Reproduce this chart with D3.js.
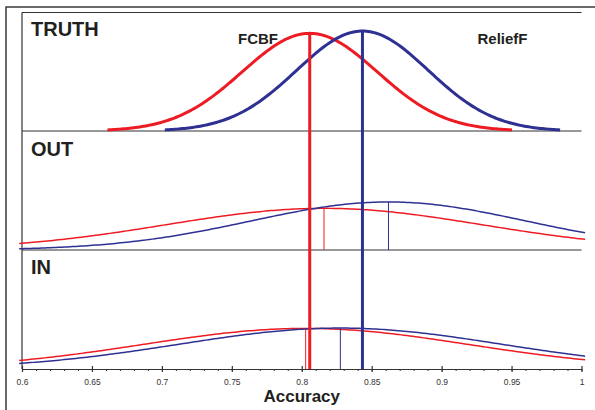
<!DOCTYPE html>
<html>
<head>
<meta charset="utf-8">
<script src="https://cdn.jsdelivr.net/npm/d3@7"></script>
<style>
  html, body { margin: 0; padding: 0; background: #fff; overflow: hidden; }
  svg { display: block; font-family: "Liberation Sans", Arial, sans-serif; }
</style>
</head>
<body>
<svg id="chart" width="595" height="410"></svg>
<script>
// values
var methods = ["FCBF", "ReliefF"];
var colors = ["#ed1c24", "#2e3192"];
var panels = ["TRUTH", "OUT", "IN"];
var truthMean = [0.8057, 0.8434];
var truthSd = [0.0482, 0.0471];
var outMean = [0.8159, 0.8620];
var outSd = [0.1130, 0.0980];
var inMean = [0.8028, 0.8276];
var inSd = [0.1160, 0.1150];
var xMajor = [0.6, 0.65, 0.7, 0.75, 0.8, 0.85, 0.9, 0.95, 1];
var xLabels = ["0.6", "0.65", "0.7", "0.75", "0.8", "0.85", "0.9", "0.95", "1"];
var xMinor = d3.range(60, 101).map(function(d) { return d / 100; });
var tailRange = [0.598, 1.0026];

var svg = d3.select("#chart");
var left = 22, right = 581.5;
var panelTop = [12.5, 131, 250];
var panelBottom = [131, 250, 369];

var x = d3.scaleLinear().domain([0.6, 1]).range([left, right]);

function dens(m, s, v) {
  return Math.exp(-((v - m) * (v - m)) / (2 * s * s)) / (s * Math.sqrt(2 * Math.PI));
}

// outer border, runs off the right and bottom edges
svg.append("path")
  .attr("d", "M6,440 L6,7 L640,7")
  .attr("fill", "none").attr("stroke", "#3a3a3a").attr("stroke-width", 1.5);

var yScales = panelBottom.map(function(b) {
  return d3.scaleLinear().domain([0, 10]).range([b, b - 118]);
});

// frame lines
svg.append("line").attr("x1", left).attr("x2", left)
  .attr("y1", panelTop[0]).attr("y2", panelBottom[2])
  .attr("stroke", "#333").attr("stroke-width", 1.2);
[panelTop[0], panelBottom[0], panelBottom[1]].forEach(function(yy) {
  svg.append("line").attr("x1", left).attr("x2", right)
    .attr("y1", yy).attr("y2", yy)
    .attr("stroke", "#333").attr("stroke-width", 1.2);
});

var sets = [
  { mean: truthMean, sd: truthSd, w: 3, span: "sd" },
  { mean: outMean, sd: outSd, w: 1.5, span: "full" },
  { mean: inMean, sd: inSd, w: 1.5, span: "full" }
];

sets.forEach(function(set, p) {
  var y = yScales[p];
  var line = d3.line()
    .x(function(d) { return x(d[0]); })
    .y(function(d) { return y(d[1]); });
  methods.forEach(function(mName, i) {
    var m = set.mean[i], s = set.sd[i];
    var lo, hi;
    if (set.span == "sd") { lo = m - 3 * s; hi = m + 3 * s; }
    else { lo = tailRange[0]; hi = tailRange[1]; }
    var pts = d3.range(0, 201).map(function(k) {
      var v = lo + (hi - lo) * k / 200;
      return [v, dens(m, s, v)];
    });
    svg.append("path").datum(pts)
      .attr("d", line)
      .attr("fill", "none")
      .attr("stroke", colors[i])
      .attr("stroke-width", set.w);
    if (p > 0) {
      svg.append("line")
        .attr("x1", x(m)).attr("x2", x(m))
        .attr("y1", y(dens(m, s, m))).attr("y2", panelBottom[p])
        .attr("stroke", colors[i]).attr("stroke-width", 1);
    }
  });
});

// thick mean lines of the truth
methods.forEach(function(mName, i) {
  var m = truthMean[i];
  svg.append("line")
    .attr("x1", x(m)).attr("x2", x(m))
    .attr("y1", yScales[0](dens(m, truthSd[i], m)))
    .attr("y2", panelBottom[2])
    .attr("stroke", colors[i]).attr("stroke-width", 3);
});

// axis
var minorAxis = svg.append("g")
  .attr("transform", "translate(0," + panelBottom[2] + ")")
  .call(d3.axisBottom(x).tickValues(xMinor).tickSize(2).tickSizeOuter(0).tickFormat(""));
minorAxis.select(".domain").remove();
minorAxis.selectAll(".tick line").attr("stroke", "#333");

var axis = svg.append("g")
  .attr("transform", "translate(0," + panelBottom[2] + ")")
  .call(d3.axisBottom(x).tickValues(xMajor).tickSize(3).tickSizeOuter(0)
    .tickFormat(function(d, i) { return xLabels[i]; }));
axis.select(".domain").attr("stroke", "#333").attr("stroke-width", 1.2);
axis.selectAll(".tick line").attr("y1", -3).attr("stroke", "#333").attr("stroke-width", 1.2);
axis.selectAll(".tick text")
  .attr("y", 9.5)
  .attr("fill", "#333")
  .style("font-size", "8.5px")
  .style("font-family", "'Liberation Sans', Arial, sans-serif");

svg.append("text")
  .attr("x", x(0.8)).attr("y", 402)
  .attr("text-anchor", "middle")
  .attr("font-weight", "bold").attr("font-size", 17)
  .attr("fill", "#231f20")
  .text("Accuracy");

// panel titles
var titleBase = [36, 156, 274];
panels.forEach(function(t, p) {
  svg.append("text")
    .attr("x", 31).attr("y", titleBase[p])
    .attr("font-weight", "bold").attr("font-size", 20)
    .attr("fill", "#231f20")
    .text(t);
});

// method labels
svg.append("text").attr("x", 238).attr("y", 44)
  .attr("font-weight", "bold").attr("font-size", 15).attr("fill", "#231f20")
  .text(methods[0]);
svg.append("text").attr("x", 477.5).attr("y", 44)
  .attr("font-weight", "bold").attr("font-size", 15).attr("fill", "#231f20")
  .text(methods[1]);
</script>
</body>
</html>
